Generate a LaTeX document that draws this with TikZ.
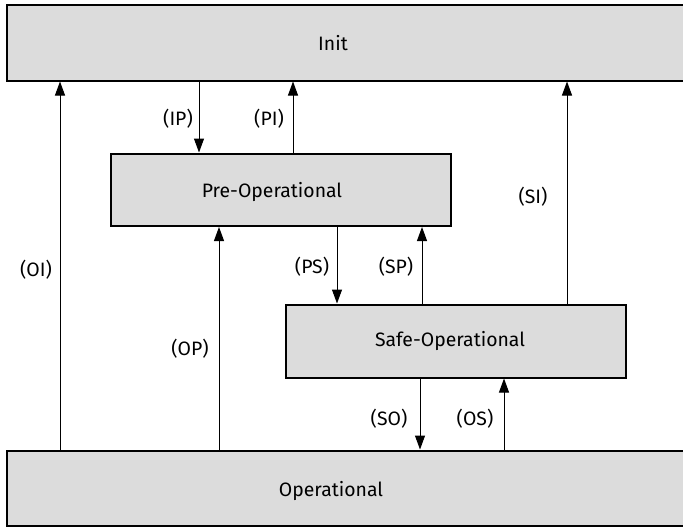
\documentclass[tikz,border=0pt]{standalone}
\usepackage{fontspec}
\setmainfont{Fira Sans}
\usetikzlibrary{arrows.meta,fit}
\definecolor{statefill}{RGB}{220,220,220}
\tikzset{
  statebox/.style={draw=black, fill=statefill, line width=1pt, inner sep=0pt, rectangle},
  statelbl/.style={inner sep=0pt, font=\fontsize{9.7pt}{11.5pt}\selectfont},
  translbl/.style={inner sep=0pt, font=\fontsize{9.7pt}{11.5pt}\selectfont},
  trans/.style={line width=0.5pt, -{Triangle[length=7pt,width=5pt]}},
}
\begin{document}
\begin{tikzpicture}[x=0.5pt,y=-0.5pt]
  \useasboundingbox (0,0) rectangle (683,527);
  \clip (0,0) rectangle (683,527);
  \fill[white] (0,0) rectangle (683,527);

  % state boxes
  \node[statebox, fit={(7,4.5)(692,80.5)}] (init) {};
  \node[statebox, fit={(111,153.5)(451,226)}] (preop) {};
  \node[statebox, fit={(285.5,304.5)(626,377.5)}] (safeop) {};
  \node[statebox, fit={(6.5,450.5)(692,526)}] (op) {};

  % state names
  \node[statelbl] (initlbl) at (333,43) {Init};
  \node[statelbl] (preoplbl) at (272,192) {Pre-Operational};
  \node[statelbl] (safeoplbl) at (450,341) {Safe-Operational};
  \node[statelbl] (oplbl) at (331,491) {Operational};

  % horizontal positions of the transition lines
  \coordinate (xOI) at (60,0);
  \coordinate (xIP) at (199,0);
  \coordinate (xOP) at (219,0);
  \coordinate (xPI) at (293,0);
  \coordinate (xPS) at (337,0);
  \coordinate (xSO) at (420,0);
  \coordinate (xSP) at (422,0);
  \coordinate (xOS) at (504,0);
  \coordinate (xSI) at (567,0);

  % transitions
  \draw[trans] (init.south -| xIP) -- (preop.north -| xIP);
  \draw[trans] (preop.north -| xPI) -- (init.south -| xPI);
  \draw[trans] (op.north -| xOI) -- (init.south -| xOI);
  \draw[trans] (op.north -| xOP) -- (preop.south -| xOP);
  \draw[trans] (preop.south -| xPS) -- (safeop.north -| xPS);
  \draw[trans] (safeop.north -| xSP) -- (preop.south -| xSP);
  \draw[trans] (safeop.north -| xSI) -- (init.south -| xSI);
  \draw[trans] (safeop.south -| xSO) -- (op.north -| xSO);
  \draw[trans] (op.north -| xOS) -- (safeop.south -| xOS);

  % transition names
  \node[translbl] (lIP) at (178,119) {(IP)};
  \node[translbl] (lPI) at (269,119) {(PI)};
  \node[translbl] (lOI) at (36,270) {(OI)};
  \node[translbl] (lOP) at (190,349) {(OP)};
  \node[translbl] (lPS) at (312,267) {(PS)};
  \node[translbl] (lSP) at (396,267) {(SP)};
  \node[translbl] (lSI) at (533,197) {(SI)};
  \node[translbl] (lSO) at (389,419) {(SO)};
  \node[translbl] (lOS) at (475,419) {(OS)};
\end{tikzpicture}
\end{document}
